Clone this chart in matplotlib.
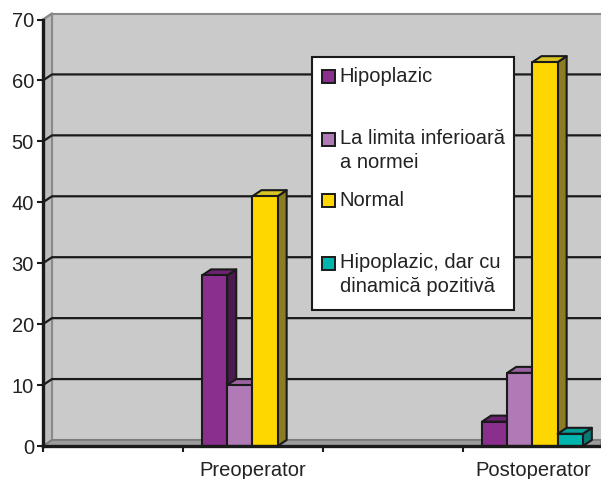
import matplotlib
matplotlib.use("Agg")
import matplotlib.pyplot as plt
from matplotlib.patches import Rectangle, Polygon

plt.rcParams["font.family"] = ["Liberation Sans", "DejaVu Sans"]

# ─── Data ────────────────────────────────────────────────────────────────────
categories = ["Preoperator", "Postoperator"]
series = ["Hipoplazic", "La limita inferioară\na normei", "Normal",
          "Hipoplazic, dar cu\ndinamică pozitivă"]
values = [
    [28, 4],    # Hipoplazic
    [10, 12],   # La limita inferioara a normei
    [41, 63],   # Normal
    [0, 2],     # Hipoplazic, dar cu dinamica pozitiva
]
y_ticks = [0, 10, 20, 30, 40, 50, 60, 70]

# ─── Styles (front, top, side) ───────────────────────────────────────────────
colors = [
    ("#8b2f8f", "#6c2370", "#4a1a4d"),
    ("#b07ab6", "#9a62a0", "#6e4573"),
    ("#ffd700", "#d8c425", "#8c7d22"),
    ("#00b5ad", "#00a099", "#087a76"),
]

W, H = 601, 479
fig = plt.figure(figsize=(W / 100, H / 100), dpi=100)
x0, y0, ytop = 43, 446, 19.5
ax = fig.add_axes([x0 / W, (H - y0) / H, (W - x0) / W, (y0 - ytop) / H])
px_per_cat = 280.0
xmax = (W - x0) / px_per_cat
ax.set_xlim(0, xmax)
ax.set_ylim(0, 70)
ax.set_facecolor("none")

px_per_unit = (y0 - ytop) / 70.0
dx = 9 / px_per_cat          # depth offset in x (data units)
dy = 6 / px_per_unit         # depth offset in y (data units)

# walls
ax.add_patch(Rectangle((dx, dy), xmax, 70, facecolor="#cacaca",
                       edgecolor="#8a8a8a", lw=1.5, zorder=0, clip_on=False))
ax.add_patch(Polygon([(0, 0), (dx, dy), (dx, 70 + dy), (0, 70)], closed=True,
                     facecolor="#bdbdbd", edgecolor="#8a8a8a", lw=1.5,
                     zorder=0, clip_on=False))
ax.add_patch(Polygon([(0, 0), (xmax, 0), (xmax, dy), (dx, dy)], closed=True,
                     facecolor="#9c9c9c", edgecolor="#7a7a7a", lw=1.2,
                     zorder=0.5, clip_on=False))

# gridlines on back wall + side wall
for yv in y_ticks[1:-1]:
    ax.plot([0, dx, xmax], [yv, yv + dy, yv + dy], color="#1a1a1a", lw=1.6,
            zorder=1, clip_on=False)
ax.plot([0, dx], [70, 70 + dy], color="#8a8a8a", lw=1.5, zorder=1, clip_on=False)

# bars
bar_w = 0.09
group_off = 0.568
edge = "#1a1a1a"
for ci in range(len(categories)):
    for si in range(len(series)):
        v = values[si][ci]
        if v <= 0:
            continue
        x = ci + group_off + si * bar_w
        front, top, side = colors[si]
        ax.add_patch(Polygon([(x + bar_w, 0), (x + bar_w + dx, dy),
                              (x + bar_w + dx, v + dy), (x + bar_w, v)],
                             closed=True, facecolor=side, edgecolor=edge,
                             lw=1.5, joinstyle="round", zorder=2, clip_on=False))
        ax.add_patch(Polygon([(x, v), (x + bar_w, v), (x + bar_w + dx, v + dy),
                              (x + dx, v + dy)], closed=True, facecolor=top,
                             edgecolor=edge, lw=1.5, joinstyle="round",
                             zorder=2, clip_on=False))
        ax.add_patch(Rectangle((x, 0), bar_w, v, facecolor=front,
                               edgecolor=edge, lw=1.5, joinstyle="round",
                               zorder=2, clip_on=False))

# axes
for s in ("top", "right"):
    ax.spines[s].set_visible(False)
for s in ("left", "bottom"):
    ax.spines[s].set_color("#1a1a1a")
    ax.spines[s].set_linewidth(2.4)
    ax.spines[s].set_zorder(5)
ax.set_yticks(y_ticks)
ax.tick_params(axis="y", direction="out", length=4.5, width=1.5,
               color="#1a1a1a", labelsize=14.5, pad=2, labelcolor="#222222")
ax.set_xticks([0, 0.5, 1, 1.5])
ax.set_xticklabels([])
ax.set_xticks([ci + 0.75 for ci in range(len(categories))], minor=True)
ax.set_xticklabels(categories, minor=True)
ax.tick_params(axis="x", which="major", direction="out", length=4.5,
               width=1.5, color="#1a1a1a")
ax.tick_params(axis="x", which="minor", length=0, pad=11, labelsize=14.5,
               labelcolor="#222222")

# legend box (pixel coordinates)
def fp(x, y):
    return (x / W, 1 - y / H)

lx, ly, lw_, lh = 312, 57, 202, 253
fig.patches.append(Rectangle(fp(lx, ly + lh), lw_ / W, lh / H,
                             transform=fig.transFigure, facecolor="white",
                             edgecolor="#1a1a1a", lw=1.5, zorder=10))
row_y = [76.5, 139, 200.5, 263]
for si, label in enumerate(series):
    cy = row_y[si]
    fig.patches.append(Rectangle(fp(322, cy + 6.5), 12.5 / W, 13 / H,
                                 transform=fig.transFigure,
                                 facecolor=colors[si][0], edgecolor="#1a1a1a",
                                 lw=1.4, zorder=11))
    fig.text(*fp(339.5, cy - 9.5), label, fontsize=14.5, color="#222222",
             va="top", ha="left", linespacing=1.28, zorder=12)

fig.savefig("out.png", dpi=100)
